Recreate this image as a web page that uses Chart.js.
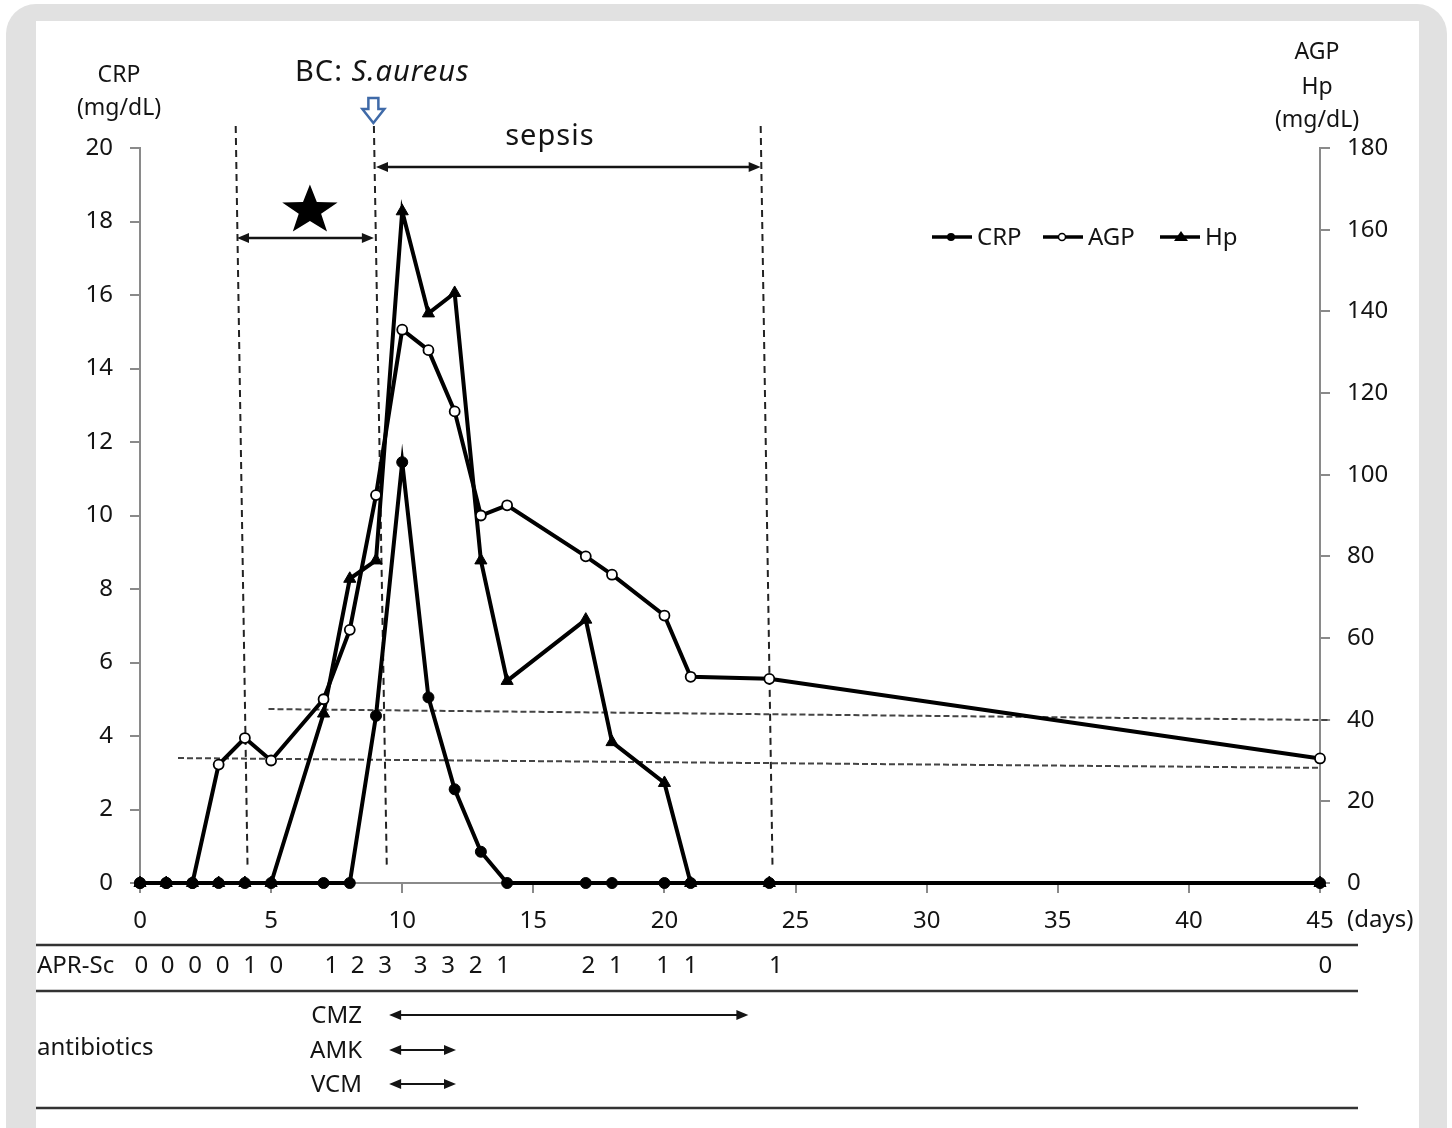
<!DOCTYPE html>
<html>
<head>
<meta charset="utf-8">
<script src="https://cdn.jsdelivr.net/npm/chart.js@4.4.1/dist/chart.umd.min.js"></script>
<style>
  html, body { margin: 0; padding: 0; background: #fff; }
  canvas { display: block; }
</style>
</head>
<body>
<canvas id="chart" width="1452" height="1128"></canvas>
<script>
// ── data ──
const days = [0, 1, 2, 3, 4, 5, 7, 8, 9, 10, 11, 12, 13, 14, 17, 18, 20, 21, 24, 45];
const crpValues = [0, 0, 0, 0, 0, 0, 0, 0, 4.55, 11.45, 5.05, 2.55, 0.85, 0, 0, 0, 0, 0, 0, 0];
const agpValues = [0, 0, 0, 29, 35.5, 30, 45, 62, 95, 135.5, 130.5, 115.5, 90, 92.5, 80, 75.5, 65.5, 50.5, 50, 30.5];
const hpValues  = [0, 0, 0, 0, 0, 0, 41.5, 74.5, 79, 164.5, 139.5, 144.5, 79, 49.5, 64.5, 34.5, 24.5, 0, 0, 0];

const xTicks = { min: 0, max: 45, step: 5 };
const crpTicks = { min: 0, max: 20, step: 2 };
const agpTicks = { min: 0, max: 180, step: 20 };

// APR score row (label positions in days, as printed)
const aprDays   = [0.05, 1.05, 2.1, 3.15, 4.2, 5.2, 7.3, 8.3, 9.35, 10.7, 11.75, 12.8, 13.85, 17.1, 18.15, 19.95, 21, 24.25, 45.2];
const aprScores = [0, 0, 0, 0, 1, 0, 1, 2, 3, 3, 3, 2, 1, 2, 1, 1, 1, 1, 0];

// antibiotics (start / end day)
const drugNames = ['CMZ', 'AMK', 'VCM'];
const drugStart = [9.5, 9.5, 9.5];
const drugEnd   = [23.2, 12.05, 12.05];

// event markers (days)
const eventLines = [[3.65, 4.1], [8.92, 9.41], [23.67, 24.12]];
const starPeriod = [3.7, 8.92];
const sepsisPeriod = [9.0, 23.67];
const bcDay = 8.9;
// reference lines on AGP/Hp axis: [day, value] start -> end
const refLines = [
  [[4.9, 42.6], [45.4, 39.9]],
  [[1.45, 30.6], [45, 28.2]],
];

const FONT = '"Noto Sans", "Open Sans", sans-serif';
const INK = '#141414';
const AXIS = '#8a8a8a';

function pts(vals) { return days.map((d, i) => ({ x: d, y: vals[i] })); }

function arrow(ctx, x1, x2, y, w) {
  ctx.save();
  ctx.strokeStyle = INK; ctx.fillStyle = INK; ctx.lineWidth = w || 2.5;
  ctx.beginPath(); ctx.moveTo(x1 + 6, y); ctx.lineTo(x2 - 6, y); ctx.stroke();
  ctx.beginPath(); ctx.moveTo(x1, y); ctx.lineTo(x1 + 12, y - 5); ctx.lineTo(x1 + 12, y + 5); ctx.closePath(); ctx.fill();
  ctx.beginPath(); ctx.moveTo(x2, y); ctx.lineTo(x2 - 12, y - 5); ctx.lineTo(x2 - 12, y + 5); ctx.closePath(); ctx.fill();
  ctx.restore();
}

function star(ctx, cx, cy, ro, ri, sx) {
  ctx.beginPath();
  for (let i = 0; i < 10; i++) {
    const r = i % 2 ? ri : ro;
    const a = -Math.PI / 2 + i * Math.PI / 5;
    ctx.lineTo(cx + sx * r * Math.cos(a), cy + r * Math.sin(a));
  }
  ctx.closePath();
  ctx.fill();
}

const overlay = {
  id: 'overlay',
  beforeDraw(chart) {
    const ctx = chart.ctx;
    ctx.save();
    ctx.fillStyle = '#fff';
    ctx.fillRect(0, 0, chart.width, chart.height);
    ctx.fillStyle = '#e1e1e1';
    ctx.beginPath();
    ctx.roundRect(6, 4, 1441, 1160, 30);
    ctx.fill();
    ctx.fillStyle = '#fff';
    ctx.fillRect(36, 21, 1383, 1107);
    ctx.restore();
  },
  beforeDatasetsDraw(chart) {
    const { ctx, scales: { x, y, y2 } } = chart;
    ctx.save();
    ctx.strokeStyle = '#222';
    ctx.lineWidth = 2;
    ctx.setLineDash([7, 5]);
    for (const [a, b] of eventLines) {
      ctx.beginPath();
      ctx.moveTo(x.getPixelForValue(a), y.getPixelForValue(20.6));
      ctx.lineTo(x.getPixelForValue(b), y.getPixelForValue(0.5));
      ctx.stroke();
    }
    ctx.strokeStyle = '#444';
    ctx.setLineDash([6, 3]);
    for (const [p, q] of refLines) {
      ctx.beginPath();
      ctx.moveTo(x.getPixelForValue(p[0]), y2.getPixelForValue(p[1]));
      ctx.lineTo(x.getPixelForValue(q[0]), y2.getPixelForValue(q[1]));
      ctx.stroke();
    }
    ctx.restore();
  },
  afterDraw(chart) {
    const { ctx, scales: { x, y } } = chart;
    ctx.save();
    ctx.fillStyle = INK;
    ctx.textAlign = 'center';
    ctx.textBaseline = 'middle';

    // axis titles
    ctx.font = '23px ' + FONT;
    ctx.fillText('CRP', 119, 75);
    ctx.fillText('(mg/dL)', 119, 108);
    ctx.fillText('AGP', 1317, 52);
    ctx.fillText('Hp', 1317, 87);
    ctx.fillText('(mg/dL)', 1317, 120);
    ctx.font = '24px ' + FONT;
    ctx.textAlign = 'left';
    ctx.fillText('(days)', 1347, 920);

    // BC label + blue arrow
    ctx.font = '29px ' + FONT;
    ctx.letterSpacing = '1px';
    ctx.textAlign = 'left';
    const bc = 'BC: ';
    ctx.fillText(bc, 295, 73);
    const w = ctx.measureText(bc).width;
    ctx.font = 'italic 29px ' + FONT;
    ctx.fillText('S.aureus', 295 + w, 73);

    const bx = x.getPixelForValue(bcDay);
    ctx.strokeStyle = '#3f6aa8';
    ctx.lineWidth = 2.5;
    ctx.beginPath();
    ctx.moveTo(bx - 5, 98); ctx.lineTo(bx + 5, 98); ctx.lineTo(bx + 5, 109);
    ctx.lineTo(bx + 11, 109); ctx.lineTo(bx, 123); ctx.lineTo(bx - 11, 109);
    ctx.lineTo(bx - 5, 109); ctx.closePath();
    ctx.stroke();

    // sepsis
    ctx.font = '29px ' + FONT;
    ctx.textAlign = 'center';
    const s1 = x.getPixelForValue(sepsisPeriod[0]), s2 = x.getPixelForValue(sepsisPeriod[1]);
    ctx.fillText('sepsis', x.getPixelForValue(15.63), 137);
    ctx.letterSpacing = '0px';
    arrow(ctx, s1, s2, y.getPixelForValue(19.48));

    // star period
    const t1 = x.getPixelForValue(starPeriod[0]), t2 = x.getPixelForValue(starPeriod[1]);
    arrow(ctx, t1, t2, y.getPixelForValue(17.55));
    ctx.fillStyle = '#000';
    star(ctx, x.getPixelForValue(6.48), y.getPixelForValue(18.3), 26, 10.5, 1.12);

    // legend
    ctx.fillStyle = INK;
    ctx.font = '24px ' + FONT;
    ctx.textAlign = 'left';
    const ly = 237;
    const leg = [
      { x0: 932, label: 'CRP', style: 'dot' },
      { x0: 1043, label: 'AGP', style: 'open' },
      { x0: 1160, label: 'Hp', style: 'tri' },
    ];
    for (const l of leg) {
      ctx.strokeStyle = '#000'; ctx.lineWidth = 3.5;
      ctx.beginPath(); ctx.moveTo(l.x0, ly); ctx.lineTo(l.x0 + 40, ly); ctx.stroke();
      const mx = l.x0 + 19;
      ctx.fillStyle = '#000';
      if (l.style === 'dot') {
        ctx.beginPath(); ctx.arc(mx, ly, 4, 0, Math.PI * 2); ctx.fill();
      } else if (l.style === 'open') {
        ctx.fillStyle = '#fff'; ctx.lineWidth = 1.5;
        ctx.beginPath(); ctx.arc(mx, ly, 3.5, 0, Math.PI * 2); ctx.fill(); ctx.stroke();
      } else {
        ctx.beginPath(); ctx.moveTo(mx + 2, ly - 6); ctx.lineTo(mx + 9, ly + 4); ctx.lineTo(mx - 5, ly + 4); ctx.closePath(); ctx.fill();
      }
      ctx.fillStyle = INK;
      ctx.fillText(l.label, l.x0 + 45, ly + 1);
    }

    // table below
    ctx.strokeStyle = '#333';
    ctx.lineWidth = 2.5;
    for (const ty of [945, 991, 1108]) {
      ctx.beginPath(); ctx.moveTo(36, ty); ctx.lineTo(1358, ty); ctx.stroke();
    }
    ctx.font = '24px ' + FONT;
    ctx.textAlign = 'left';
    ctx.fillText('APR-Sc', 37, 966);
    ctx.fillText('antibiotics', 37, 1048);
    ctx.textAlign = 'center';
    aprDays.forEach((d, i) => ctx.fillText(String(aprScores[i]), x.getPixelForValue(d), 966));

    ctx.textAlign = 'right';
    const rowY = [1015, 1050, 1084];
    drugNames.forEach((n, i) => {
      ctx.fillText(n, 362, rowY[i] + 1);
      arrow(ctx, x.getPixelForValue(drugStart[i]), x.getPixelForValue(drugEnd[i]), rowY[i], 2.2);
    });
    ctx.restore();
  },
};

const tickFont = { family: FONT, size: 24 };

new Chart(document.getElementById('chart'), {
  type: 'line',
  data: {
    datasets: [
      {
        label: 'CRP', data: pts(crpValues), yAxisID: 'y',
        borderColor: '#000', borderWidth: 4, tension: 0, clip: false,
        pointStyle: 'circle', pointRadius: 5.5, pointBackgroundColor: '#000', pointBorderColor: '#000', pointBorderWidth: 1,
      },
      {
        label: 'AGP', data: pts(agpValues), yAxisID: 'y2',
        borderColor: '#000', borderWidth: 4, tension: 0, clip: false,
        pointStyle: 'circle', pointRadius: 5, pointBackgroundColor: '#fff', pointBorderColor: '#000', pointBorderWidth: 1.8,
      },
      {
        label: 'Hp', data: pts(hpValues), yAxisID: 'y2',
        borderColor: '#000', borderWidth: 4, tension: 0, clip: false,
        pointStyle: 'triangle', pointRadius: 7, pointBackgroundColor: '#000', pointBorderColor: '#000', pointBorderWidth: 1,
      },
    ],
  },
  options: {
    responsive: false,
    animation: false,
    events: [],
    layout: { padding: { top: 148, left: 0, right: 0, bottom: 0 } },
    plugins: { legend: { display: false }, tooltip: { enabled: false } },
    scales: {
      x: {
        type: 'linear', min: xTicks.min, max: xTicks.max,
        ticks: { stepSize: xTicks.step, color: INK, font: tickFont, padding: 14, maxRotation: 0 },
        grid: { drawOnChartArea: false, drawTicks: true, tickLength: 10, color: AXIS, lineWidth: 2 },
        border: { color: AXIS, width: 2 },
        afterFit: (s) => { s.height = 1128 - 883; },
      },
      y: {
        position: 'left', min: crpTicks.min, max: crpTicks.max,
        ticks: { stepSize: crpTicks.step, color: INK, font: tickFont, padding: 17 },
        grid: { drawOnChartArea: false, drawTicks: true, tickLength: 10, color: AXIS, lineWidth: 2 },
        border: { color: AXIS, width: 2 },
        afterFit: (s) => { s.width = 140; },
      },
      y2: {
        position: 'right', min: agpTicks.min, max: agpTicks.max,
        ticks: { stepSize: agpTicks.step, color: INK, font: tickFont, padding: 17 },
        grid: { drawOnChartArea: false, drawTicks: true, tickLength: 10, color: AXIS, lineWidth: 2 },
        border: { color: AXIS, width: 2 },
        afterFit: (s) => { s.width = 1452 - 1320; },
      },
    },
  },
  plugins: [overlay],
});
</script>
</body>
</html>
